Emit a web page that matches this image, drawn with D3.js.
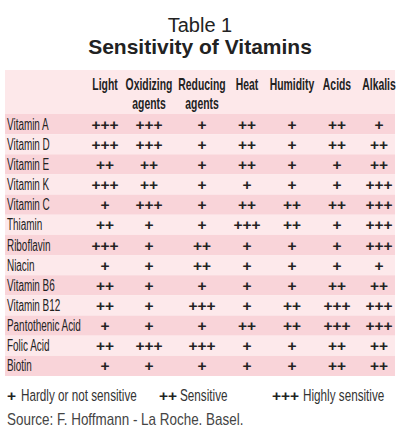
<!DOCTYPE html>
<html><head><meta charset="utf-8">
<script src="https://cdn.jsdelivr.net/npm/d3@7"></script>
<style>
html,body{margin:0;padding:0;background:#fff;}
svg{display:block;}
text{font-family:"Liberation Sans",Arial,sans-serif;}
</style></head>
<body>
<svg id="c" width="400" height="435"></svg>
<script>
const columns = ["Light", "Oxidizing agents", "Reducing agents", "Heat", "Humidity", "Acids", "Alkalis"];
const vitamins = ["Vitamin A","Vitamin D","Vitamin E","Vitamin K","Vitamin C","Thiamin","Riboflavin","Niacin","Vitamin B6","Vitamin B12","Pantothenic Acid","Folic Acid","Biotin"];
const light     = [3,3,2,3,1,2,3,1,2,2,1,2,1];
const oxidizing = [3,3,2,2,3,1,1,1,1,1,1,3,1];
const reducing  = [1,1,1,1,1,1,2,2,1,3,1,3,1];
const heat      = [2,2,2,1,2,3,1,1,1,1,2,1,1];
const humidity  = [1,1,1,1,2,2,1,1,1,2,2,1,1];
const acids     = [2,2,1,1,2,1,1,1,2,3,3,2,2];
const alkalis   = [1,2,2,3,3,3,3,1,2,3,3,2,2];
const legendLabels = ["Hardly or not sensitive","Sensitive","Highly sensitive"];
const source = "Source: F. Hoffmann - La Roche. Basel.";

const series = [light, oxidizing, reducing, heat, humidity, acids, alkalis];
const svg = d3.select("#c");

function ctext(g, x, y, str, sx, opts) {
  const t = g.append("text").attr("transform", `translate(${x},${y}) scale(${sx},1)`).text(str);
  Object.entries(opts||{}).forEach(([k,v])=>t.attr(k,v));
  return t;
}

// titles
svg.append("text").attr("x",200).attr("y",32).attr("text-anchor","middle")
  .attr("font-size",20).attr("fill","#222").text("Table 1");
svg.append("text").attr("x",200).attr("y",54).attr("text-anchor","middle")
  .attr("font-weight","bold").attr("font-size",21).attr("fill","#222").text("Sensitivity of Vitamins");

const left = 5, right = 395;
const colCenters = [105,149,202,247,292,337,379];
const x = d3.scaleOrdinal().domain(columns).range(colCenters);
const y = d3.scaleBand().domain(vitamins).range([114,376]).paddingInner(0);

// header band
svg.append("rect").attr("x",left).attr("y",70).attr("width",right-left).attr("height",44).attr("fill","#fde8ea");

// row stripes
svg.selectAll("rect.row").data(vitamins).join("rect").attr("class","row")
  .attr("x",left).attr("width",right-left)
  .attr("y",d=>y(d)).attr("height",y.bandwidth())
  .attr("fill",(d,i)=> i%2===0 ? "#f9d4d9" : "#fde9eb");

// headers
const hg = svg.append("g").attr("font-weight","bold").attr("font-size",16).attr("fill","#222").attr("text-anchor","middle");
columns.forEach(c=>{
  c.split(" ").forEach((p,j)=>ctext(hg, x(c), 90 + j*19, p, 0.65));
});

// row labels
const rg = svg.append("g").attr("font-size",16).attr("fill","#222");
vitamins.forEach(v=>ctext(rg, 7, y(v)+y.bandwidth()/2+5.5, v, 0.62));

// cells
const cells = [];
vitamins.forEach((v,i)=>columns.forEach((c,j)=>cells.push({v,c,val:series[j][i]})));
svg.append("g").attr("font-weight","bold").attr("font-size",15.5).attr("fill","#222").attr("text-anchor","middle")
  .selectAll("text").data(cells).join("text")
  .attr("x",d=>x(d.c)).attr("y",d=>y(d.v)+y.bandwidth()/2+5.5)
  .text(d=>"+".repeat(d.val));

// legend
const markX = [7,159,272];
const labX = [21,180,303];
const lg = svg.append("g");
legendLabels.forEach((l,i)=>{
  lg.append("text").attr("x",markX[i]).attr("y",401).attr("font-weight","bold").attr("font-size",15.5).attr("fill","#222").text("+".repeat(i+1));
  ctext(lg, labX[i], 401, l, 0.71, {"font-size":16.5, "fill":"#333"});
});
ctext(svg, 7, 425, source, 0.84, {"font-size":16, "fill":"#444"});
</script>
</body></html>
